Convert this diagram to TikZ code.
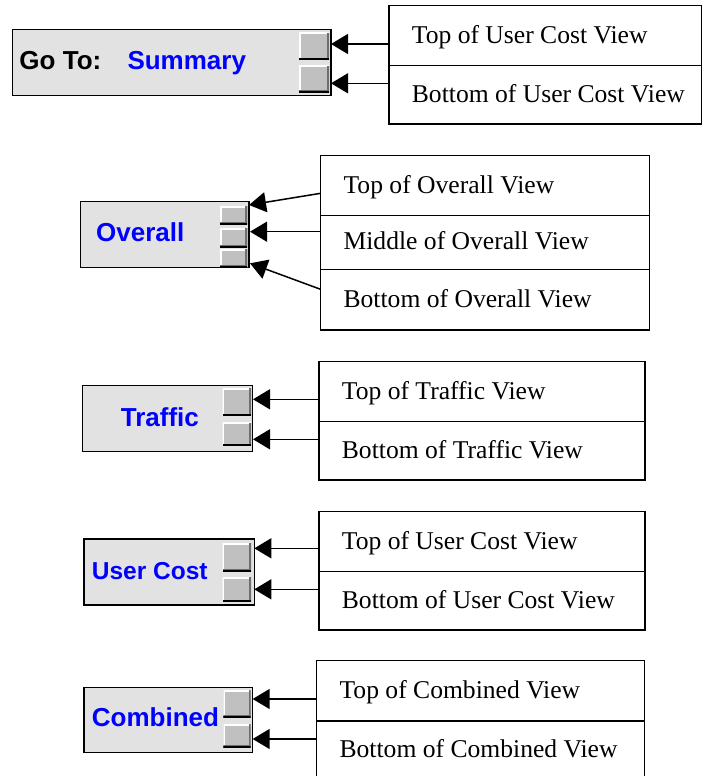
\documentclass[tikz,border=0pt]{standalone}
\usepackage{fontspec}
\setmainfont{Liberation Serif}
\setsansfont{Liberation Sans}
\usetikzlibrary{arrows.meta}
\definecolor{panelgray}{RGB}{226,226,226}
\definecolor{btngray}{RGB}{192,192,192}
\definecolor{btnshade}{RGB}{110,110,110}

\begin{document}
\begin{tikzpicture}[x=1pt,y=-1pt,
  panel/.style={draw,line width=1.5pt,fill=panelgray,anchor=north west,inner sep=0pt,outer sep=0pt},
  tag/.style={font=\sffamily\bfseries\fontsize{26}{30}\selectfont,text=blue,anchor=base west,inner sep=0pt},
  btn/.style={fill=btngray,anchor=north west,inner sep=0pt,outer sep=0pt,
    path picture={
      \draw[white,line width=3pt] (path picture bounding box.south west) -- (path picture bounding box.north west) -- (path picture bounding box.north east);
      \draw[btnshade,line width=4pt] (path picture bounding box.north east) -- (path picture bounding box.south east) -- (path picture bounding box.south west);
      \draw[black,line width=3pt] (path picture bounding box.south west) -- (path picture bounding box.south east);}},
  cell/.style 2 args={draw,line width=1.3pt,anchor=north west,outer sep=0pt,inner sep=0pt,
    minimum width=#1,minimum height=#2},
  view/.style={anchor=west,xshift=22.7pt,inner sep=0pt,font=\fontsize{25.6}{30}\selectfont,
    text height=17.7pt,text depth=3pt},
  ptr/.style={-{Triangle[length=17pt,width=20pt]},line width=1.5pt}]
\useasboundingbox (0,0) rectangle (703,776);

% go to summary
\node[panel,minimum width=318.3pt,minimum height=66.4pt] (go) at (12.7,29.3) {};
\node[tag,text=black] (golbl) at (19.3,70) {Go To:};
\node[tag] (sumlbl) at (127.3,70) {Summary};
\node[btn,minimum width=30pt,minimum height=27pt] (s1) at (299,33) {};
\node[btn,minimum width=30pt,minimum height=26pt] (s2) at (299,66) {};
\node[cell={312.7pt}{60pt},label={[view]west:Top of User Cost View}] (st) at (389,5.7) {};
\node[cell={312.7pt}{58.3pt},label={[view]west:Bottom of User Cost View}] (sb) at (389,65.7) {};
\coordinate (s1p) at (331,44);
\coordinate (s2p) at (331,83.3);
\draw[ptr] (st.west |- s1p) -- (s1p);
\draw[ptr] (sb.west |- s2p) -- (s2p);

% overall
\node[panel,minimum width=168.3pt,minimum height=65.6pt] (ov) at (80.7,201.7) {};
\node[tag] (ovlbl) at (96,241.7) {Overall};
\node[btn,minimum width=27.3pt,minimum height=18pt] (o1) at (220,206) {};
\node[btn,minimum width=27.3pt,minimum height=19pt] (o2) at (220,228) {};
\node[btn,minimum width=27.3pt,minimum height=18pt] (o3) at (220,249) {};
\node[cell={328.6pt}{60pt},label={[view]west:Top of Overall View}] (ot) at (320.7,155.7) {};
\node[cell={328.6pt}{53.6pt},label={[view]west:Middle of Overall View}] (om) at (320.7,215.7) {};
\node[cell={328.6pt}{60.7pt},label={[view]west:Bottom of Overall View}] (ob) at (320.7,269.3) {};
\coordinate (o1p) at (249,205);
\coordinate (o2p) at (250,231.7);
\coordinate (o3p) at (250,263.3);
\draw[ptr] ([yshift=-7.6pt]ot.west) -- (o1p);
\draw[ptr] (om.west |- o2p) -- (o2p);
\draw[ptr] ([yshift=10.3pt]ob.west) -- (o3p);

% traffic
\node[panel,minimum width=170pt,minimum height=66pt] (tr) at (82.7,385.7) {};
\node[tag] (trlbl) at (120.7,426) {Traffic};
\node[btn,minimum width=28.3pt,minimum height=27.4pt] (t1) at (222.7,388.3) {};
\node[btn,minimum width=28.3pt,minimum height=23pt] (t2) at (222.7,422.7) {};
\node[cell={326pt}{60pt},label={[view]west:Top of Traffic View}] (tt) at (319,361.7) {};
\node[cell={326pt}{58.3pt},label={[view]west:Bottom of Traffic View}] (tb) at (319,421.7) {};
\coordinate (t1p) at (253,399.3);
\coordinate (t2p) at (253,439.3);
\draw[ptr] (tt.west |- t1p) -- (t1p);
\draw[ptr] (tb.west |- t2p) -- (t2p);

% user cost
\node[panel,minimum width=170.3pt,minimum height=66pt] (uc) at (84,539) {};
\node[tag,font=\sffamily\bfseries\fontsize{24.5}{30}\selectfont] (uclbl) at (91.7,579) {User Cost};
\node[btn,minimum width=28.3pt,minimum height=28pt] (u1) at (222.7,543.3) {};
\node[btn,minimum width=28.3pt,minimum height=24.4pt] (u2) at (222.7,577.3) {};
\node[cell={326pt}{60pt},label={[view]west:Top of User Cost View}] (ut) at (319,511.7) {};
\node[cell={326pt}{58.3pt},label={[view]west:Bottom of User Cost View}] (ub) at (319,571.7) {};
\coordinate (u1p) at (254.3,548.3);
\coordinate (u2p) at (254.3,589.3);
\draw[ptr] (ut.west |- u1p) -- (u1p);
\draw[ptr] (ub.west |- u2p) -- (u2p);

% combined
\node[panel,minimum width=168.7pt,minimum height=65pt] (cb) at (84,687.3) {};
\node[tag] (cblbl) at (91.7,726) {Combined};
\node[btn,minimum width=27.4pt,minimum height=27.3pt] (c1) at (223.3,690) {};
\node[btn,minimum width=27.4pt,minimum height=23.3pt] (c2) at (223.3,724) {};
\node[cell={327.6pt}{60.3pt},label={[view]west:Top of Combined View}] (ct) at (316.7,660.7) {};
\node[cell={327.6pt}{58.3pt},label={[view]west:Bottom of Combined View}] (cbm) at (316.7,721) {};
\coordinate (c1p) at (252.7,699);
\coordinate (c2p) at (252.7,739);
\draw[ptr] (ct.west |- c1p) -- (c1p);
\draw[ptr] (cbm.west |- c2p) -- (c2p);
\end{tikzpicture}
\end{document}
